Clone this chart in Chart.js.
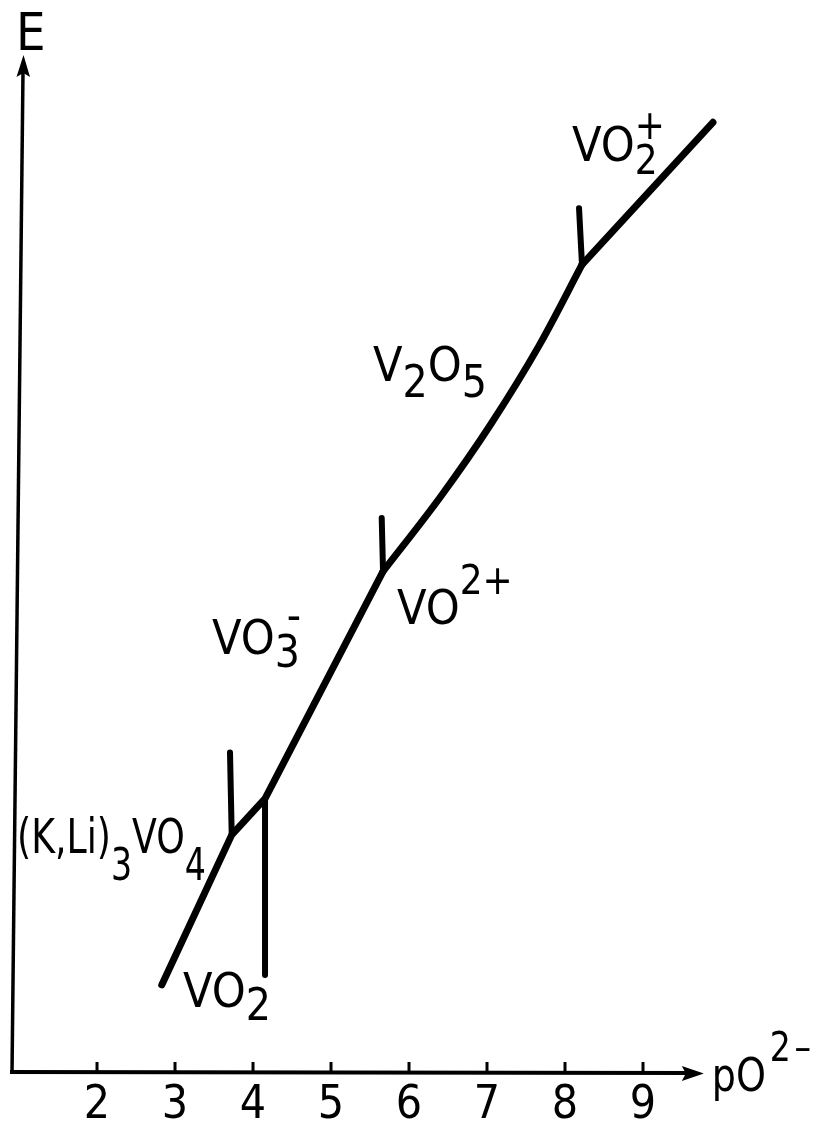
<!DOCTYPE html>
<html>
<head>
<meta charset="utf-8">
<script src="https://cdn.jsdelivr.net/npm/chart.js@4.4.1/dist/chart.umd.min.js"></script>
<style>
  html, body { margin: 0; padding: 0; background: #fff; }
  canvas { display: block; }
</style>
</head>
<body>
<canvas id="chart" width="828" height="1140"></canvas>
<script>
// Potential E versus pO2- for vanadium species in the molten (K,Li) salt

// x axis ticks (pO2-)
const xTicks = [2, 3, 4, 5, 6, 7, 8, 9];

// main E(pO2-) curve; the V2O5 stretch (points 3..7) is gently curved
const curveX = [2.83, 3.727, 4.154, 5.667, 6.409, 7.038, 7.673, 8.218, 9.897];
const curveE = [0.88, 2.397, 2.763, 5.06, 5.82, 6.535, 7.35, 8.16, 9.60];
const curvedStretch = [3, 7];

// short boundary strokes between stability domains (start, end)
const boundaryX = [[3.705, 3.727], [4.154, 4.154], [5.65, 5.667], [8.18, 8.218]];
const boundaryE = [[3.23, 2.397], [2.763, 0.98], [5.60, 5.06], [8.73, 8.16]];

// species names: "_c" subscript, "^c" superscript
const species = ['(K,Li)_3VO_4', 'VO_2', 'VO_3^-', 'VO^2^+', 'V_2O_5', 'VO_2^+'];
const axisTitles = { x: 'pO^2^–', y: 'E' };

// ---- layout ----
const FONT = '"DejaVu Sans Condensed", "Liberation Sans", sans-serif';
const X_MIN = 0.91, X_MAX = 10.0, Y_MIN = 0, Y_MAX = 10.28;
const X_ARROW_END = 9.78;
const speciesPlacement = [
  { x: 0.974, y: 2.21, drop: 27, sx: 0.84 },
  { x: 3.103, y: 0.66, drop: 13 },
  { x: 3.474, y: 4.23, drop: 13, rise: 24, over: 12 },
  { x: 5.846, y: 4.53, rise: 30, small: 40 },
  { x: 5.538, y: 6.98, drop: 16 },
  { x: 8.09,  y: 9.21, drop: 13, rise: 22, over: 0, small: 40 }
];

function parseMarkup(s) {
  const parts = [];
  let i = 0;
  while (i < s.length) {
    const c = s[i];
    if ((c === '_' || c === '^') && i + 1 < s.length) {
      parts.push({ t: s[i + 1], k: c === '_' ? 'sub' : 'sup' });
      i += 2;
    } else {
      let j = i;
      while (j < s.length && s[j] !== '_' && s[j] !== '^') j++;
      parts.push({ t: s.slice(i, j), k: 'base' });
      i = j;
    }
  }
  return parts;
}

function drawRich(ctx, text, x, y, o) {
  const size = o.size || 48, small = o.small || 44;
  const drop = o.drop || 14, rise = o.rise || 30, supGap = o.supGap || 0;
  const over = o.over === undefined ? 4 : o.over;
  const parts = parseMarkup(text);
  let cx = 0, lastSubX = null, lastSubEnd = null;
  ctx.save();
  ctx.translate(x, y);
  ctx.scale(o.sx || 1, 1);
  ctx.textBaseline = 'alphabetic';
  ctx.textAlign = 'left';
  parts.forEach((p, idx) => {
    const fs = p.k === 'base' ? size : small;
    ctx.font = fs + 'px ' + FONT;
    const w = ctx.measureText(p.t).width;
    if (p.k === 'base') {
      ctx.fillText(p.t, cx, 0);
      cx += w; lastSubX = null;
    } else if (p.k === 'sub') {
      ctx.fillText(p.t, cx, drop);
      lastSubX = cx; lastSubEnd = cx + w;
      cx += w;
    } else {
      // superscript stacked over a preceding subscript
      if (lastSubX !== null && parts[idx - 1] && parts[idx - 1].k === 'sub') {
        ctx.fillText(p.t, lastSubX + over, -rise);
        cx = Math.max(lastSubEnd, lastSubX + over + w);
      } else {
        ctx.fillText(p.t, cx + supGap, -rise);
        cx += supGap + w;
      }
    }
  });
  ctx.restore();
}

const decorations = {
  id: 'decorations',
  afterDatasetsDraw(chart) {
    const { ctx, chartArea, scales } = chart;
    const xs = scales.x, ys = scales.y;
    const y0 = ys.getPixelForValue(Y_MIN);
    const xLeft = chartArea.left;
    const xEnd = xs.getPixelForValue(X_ARROW_END);
    const yTop = ys.getPixelForValue(Y_MAX);
    ctx.save();
    ctx.strokeStyle = '#000';
    ctx.fillStyle = '#000';
    ctx.lineCap = 'butt';

    // x axis with arrow
    ctx.lineWidth = 4;
    ctx.beginPath();
    ctx.moveTo(xLeft - 2, y0);
    ctx.lineTo(xEnd - 16, y0 + 1);
    ctx.stroke();
    ctx.beginPath();
    ctx.moveTo(xEnd, y0 + 1.5);
    ctx.lineTo(xEnd - 22, y0 - 6);
    ctx.lineTo(xEnd - 18, y0 + 1.5);
    ctx.lineTo(xEnd - 22, y0 + 9);
    ctx.closePath();
    ctx.fill();

    // y axis with arrow (leaning slightly, as hand drawn)
    const lean = 11;
    ctx.lineWidth = 3.5;
    ctx.beginPath();
    ctx.moveTo(xLeft, y0 + 1);
    ctx.lineTo(xLeft + lean, yTop + 16);
    ctx.stroke();
    ctx.beginPath();
    ctx.moveTo(xLeft + lean + 0.5, yTop);
    ctx.lineTo(xLeft + lean - 6.5, yTop + 22);
    ctx.lineTo(xLeft + lean + 0.3, yTop + 18);
    ctx.lineTo(xLeft + lean + 7, yTop + 22);
    ctx.closePath();
    ctx.fill();

    // tick marks pointing up from the x axis
    ctx.lineWidth = 3;
    xTicks.forEach(v => {
      const px = xs.getPixelForValue(v);
      ctx.beginPath();
      ctx.moveTo(px, y0);
      ctx.lineTo(px, y0 - 10);
      ctx.stroke();
    });

    // axis titles
    drawRich(ctx, axisTitles.y, xLeft + 4, yTop - 5, { size: 52 });
    drawRich(ctx, axisTitles.x, xEnd + 8, y0 + 19, { size: 46, small: 40, rise: 30, supGap: 4, sx: 0.92 });

    // species names
    species.forEach((s, i) => {
      const p = speciesPlacement[i];
      drawRich(ctx, s, xs.getPixelForValue(p.x), ys.getPixelForValue(p.y), p);
    });
    ctx.restore();
  }
};

const pts = (xa, ya, from = 0, to = xa.length - 1) =>
  xa.slice(from, to + 1).map((x, i) => ({ x, y: ya[from + i] }));

const curveStyle = {
  borderColor: '#000',
  borderWidth: 7,
  borderCapStyle: 'round',
  borderJoinStyle: 'round',
  pointRadius: 0,
  fill: false
};

const [c0, c1] = curvedStretch;
const datasets = [
  Object.assign({ data: pts(curveX, curveE, 0, c0), tension: 0 }, curveStyle),
  Object.assign({ data: pts(curveX, curveE, c0, c1), cubicInterpolationMode: 'monotone' }, curveStyle),
  Object.assign({ data: pts(curveX, curveE, c1), tension: 0 }, curveStyle)
].concat(boundaryX.map((bx, i) => ({
  data: pts(bx, boundaryE[i]),
  borderColor: '#000',
  borderWidth: 6,
  borderCapStyle: 'round',
  pointRadius: 0,
  fill: false
})));

new Chart(document.getElementById('chart'), {
  type: 'line',
  data: { datasets },
  options: {
    responsive: false,
    animation: false,
    devicePixelRatio: 1,
    layout: { padding: { left: 12, right: 107, top: 55, bottom: 0 } },
    plugins: { legend: { display: false }, tooltip: { enabled: false } },
    scales: {
      x: {
        type: 'linear',
        min: X_MIN,
        max: X_MAX,
        grid: { display: false, drawTicks: false },
        border: { display: false },
        afterBuildTicks: axis => { axis.ticks = xTicks.map(v => ({ value: v })); },
        ticks: {
          color: '#000',
          padding: 11,
          font: { family: FONT, size: 46, lineHeight: 1 },
          callback: v => String(v)
        }
      },
      y: {
        type: 'linear',
        min: Y_MIN,
        max: Y_MAX,
        display: false
      }
    }
  },
  plugins: [decorations]
});
</script>
</body>
</html>
